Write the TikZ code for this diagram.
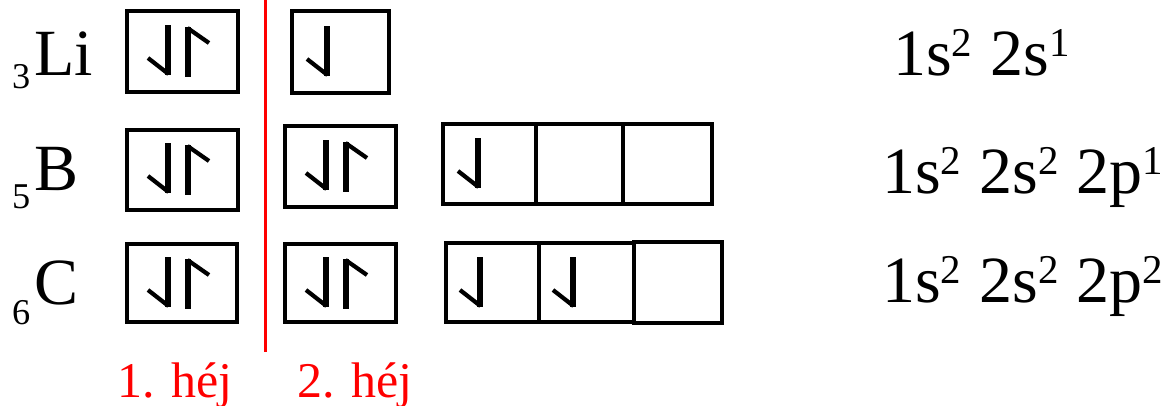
\documentclass[tikz,border=0pt]{standalone}
\usepackage{fontspec}
\setmainfont{Liberation Serif}
\newcommand{\bigtxt}{\fontsize{66}{70}\selectfont}
\newcommand{\redtxt}{\fontsize{50}{54}\selectfont}
\newcommand{\supn}[1]{\raisebox{19pt}{\scalebox{0.62}{#1}}}
\newcommand{\subn}[2]{\raisebox{-#2pt}{\scalebox{0.55}{#1}}\kern4pt}
\newcommand{\gap}{\hspace{18pt}}
\tikzset{
  orb/.style={draw=black, line width=3.3pt, rectangle, inner sep=0pt, minimum height=80pt},
  spin/.style={line width=5.5pt, line cap=butt},
  barb/.style={line width=4.2pt, line cap=butt},
  txt/.style={anchor=base west, inner sep=0pt, font=\bigtxt},
  redlab/.style={anchor=base west, inner sep=0pt, font=\redtxt, text=red},
  dn/.pic={\draw[spin] (0,0) -- (0,50); \draw[barb] (0.5,49) -- (-20,33);},
  up/.pic={\draw[spin] (0,0) -- (0,50); \draw[barb] (-0.5,1) -- (21,16);},
}
\begin{document}
\begin{tikzpicture}[x=1pt,y=-1pt]
\useasboundingbox (0,0) rectangle (1175,405);
% separator line
\coordinate (rt) at (265,0);
\coordinate (rb) at (265,352);
\draw[red, line width=3pt] (rt) -- (rb);
% element labels
\node[txt] (lLi) at (12,75) {\subn{3}{13}Li};
\node[txt] (lB) at (12,190) {\subn{5}{18}B};
\node[txt] (lC) at (12,304) {\subn{6}{20}C};
% Li row
\node[orb, minimum width=111pt, minimum height=81pt] (li1) at (182.5,51.5) {};
\node[orb, minimum width=97pt, minimum height=82pt] (li2) at (340.5,52) {};
\pic at (168,25) {dn}; \pic at (188,27) {up};
\pic at (327,26) {dn};
% B row
\node[orb, minimum width=111pt] (b1) at (182.5,170) {};
\node[orb, minimum width=111pt, minimum height=81pt] (b2) at (340.5,166.5) {};
\node[orb, minimum width=93pt] (b3) at (489.5,164) {};
\node[orb, minimum width=87pt] (b4) at (579.5,164) {};
\node[orb, minimum width=89pt] (b5) at (667.5,164) {};
\pic at (168,143) {dn}; \pic at (188,145) {up};
\pic at (326,140) {dn}; \pic at (346,142) {up};
\pic at (478,138) {dn};
% C row
\node[orb, minimum width=110pt, minimum height=78pt] (c1) at (182,283) {};
\node[orb, minimum width=111pt, minimum height=78pt] (c2) at (340.5,283) {};
\node[orb, minimum width=93pt, minimum height=79pt] (c3) at (492.5,282.5) {};
\node[orb, minimum width=95pt, minimum height=79pt] (c4) at (586.5,282.5) {};
\node[orb, minimum width=88pt, minimum height=81pt] (c5) at (678,282.5) {};
\pic at (168,257) {dn}; \pic at (188,259) {up};
\pic at (326,257) {dn}; \pic at (346,259) {up};
\pic at (480,257) {dn};
\pic at (573,257) {dn};
% configurations
\node[txt] (fLi) at (893,75) {1s\supn{2}\gap 2s\supn{1}};
\node[txt] (fB) at (882,193) {1s\supn{2}\gap 2s\supn{2}\gap 2p\supn{1}};
\node[txt] (fC) at (882,302) {1s\supn{2}\gap 2s\supn{2}\gap 2p\supn{2}};
% shell labels
\node[redlab] (h1) at (117,397) {1. héj};
\node[redlab] (h2) at (297,397) {2. héj};
\end{tikzpicture}
\end{document}
